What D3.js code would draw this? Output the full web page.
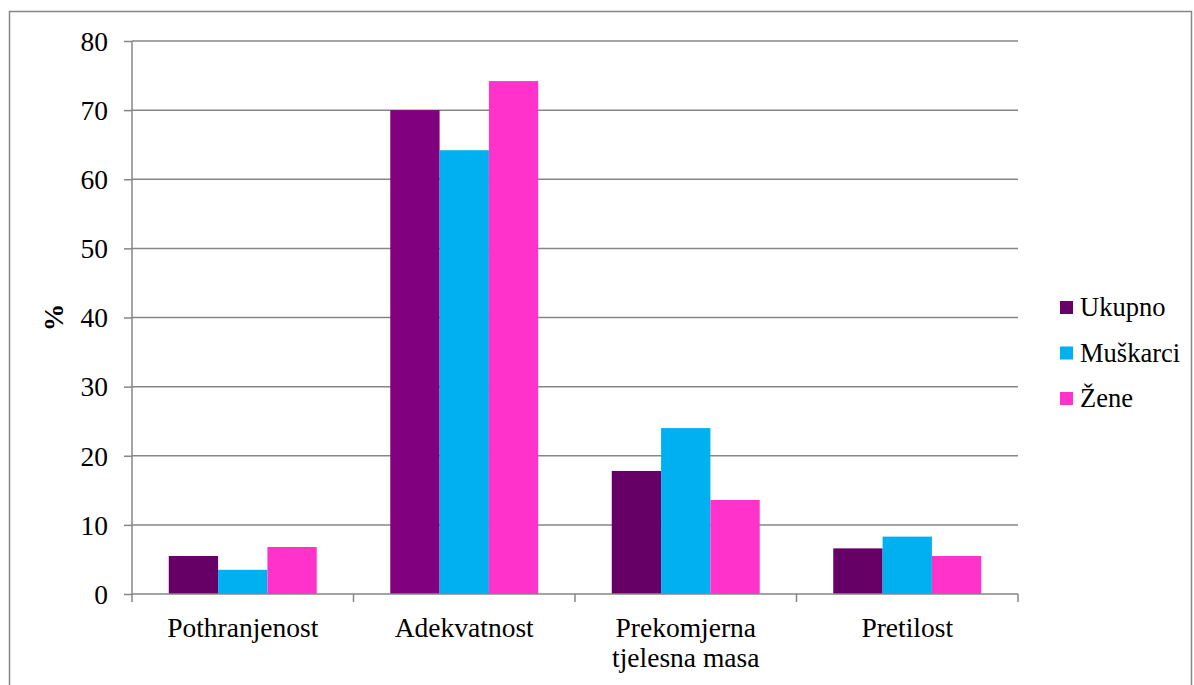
<!DOCTYPE html>
<html><head><meta charset="utf-8">
<script src="https://cdn.jsdelivr.net/npm/d3@7"></script>
<style>body{margin:0;background:#fff}svg{display:block}svg text{font-family:"Liberation Serif","Times New Roman",serif !important;fill:#000}</style>
</head><body>
<svg id="c" width="1194" height="685"></svg>
<script>
const categories = ["Pothranjenost", "Adekvatnost", "Prekomjerna tjelesna masa", "Pretilost"];
const categoryLines = [["Pothranjenost"], ["Adekvatnost"], ["Prekomjerna", "tjelesna masa"], ["Pretilost"]];
const seriesNames = ["Ukupno", "Muškarci", "Žene"];
const ukupno = [5.5, 70.0, 17.8, 6.6];
const muskarci = [3.5, 64.2, 24.0, 8.3];
const zene = [6.8, 74.2, 13.6, 5.5];
const yTicks = [0, 10, 20, 30, 40, 50, 60, 70, 80];
const seriesColors = ["#660066", "#00B0F0", "#FF33CC"];
const ukupnoPointColors = ["#660066", "#800080", "#660066", "#660066"];

const series = [ukupno, muskarci, zene];
const svg = d3.select("#c");
const L = 132, R = 1018, T = 41, B = 594;
const grey = "#868686";
const FS = 27.5;

svg.append("rect").attr("x", 9.5).attr("y", 11.5).attr("width", 1182).attr("height", 700)
  .attr("fill", "none").attr("stroke", grey).attr("stroke-width", 1.5);

const y = d3.scaleLinear().domain([0, 80]).range([B, T]);
const x0 = d3.scaleBand().domain(categories).range([L, R]).paddingInner(0.332).paddingOuter(0.166);
const x1 = d3.scaleBand().domain(seriesNames).range([0, x0.bandwidth()]);

// gridlines
svg.append("g").selectAll("line").data(yTicks.filter(d => d > 0)).join("line")
  .attr("x1", L).attr("x2", R).attr("y1", d => y(d)).attr("y2", d => y(d))
  .attr("stroke", grey).attr("stroke-width", 1.5);

// y axis
const yAxis = svg.append("g").attr("transform", `translate(${L},0)`)
  .call(d3.axisLeft(y).tickValues(yTicks).tickSize(8).tickPadding(16))
  .style("font-family", "Liberation Serif");
yAxis.select(".domain").attr("stroke", grey).attr("stroke-width", 1.5).attr("d", `M0,${T}V${B}`);
yAxis.selectAll(".tick line").attr("stroke", grey).attr("stroke-width", 1.5);
yAxis.selectAll(".tick text").attr("font-size", FS).style("font-family", "Liberation Serif").attr("fill", "#000").attr("dy", "0.34em");

// bars
const groups = svg.append("g").selectAll("g").data(categories).join("g")
  .attr("transform", d => `translate(${x0(d)},0)`);
groups.selectAll("rect").data((c, i) => seriesNames.map((s, j) => ({s, j, i, v: series[j][i]}))).join("rect")
  .attr("x", d => x1(d.s)).attr("width", x1.bandwidth())
  .attr("y", d => y(d.v)).attr("height", d => y(0) - y(d.v))
  .attr("fill", d => d.j === 0 ? ukupnoPointColors[d.i] : seriesColors[d.j]);

// x axis
const xEdges = [L].concat(categories.map(c => x0(c) - x0.step() * x0.paddingOuter() + x0.step()));
svg.append("line").attr("x1", L).attr("x2", R).attr("y1", B).attr("y2", B).attr("stroke", grey).attr("stroke-width", 1.5);
svg.append("g").selectAll("line").data(xEdges).join("line")
  .attr("x1", d => d).attr("x2", d => d).attr("y1", B).attr("y2", B + 8)
  .attr("stroke", grey).attr("stroke-width", 1.5);
categories.forEach((c, i) => {
  const t = svg.append("text").attr("x", x0(c) + x0.bandwidth() / 2).attr("y", 637)
    .attr("text-anchor", "middle").attr("font-size", FS);
  categoryLines[i].forEach((ln, k) => {
    t.append("tspan").attr("x", x0(c) + x0.bandwidth() / 2).attr("dy", k === 0 ? 0 : 30).text(ln);
  });
});

// y title
svg.append("text").attr("transform", `translate(63,${(T + B) / 2}) rotate(-90)`)
  .attr("text-anchor", "middle").attr("font-size", FS).attr("font-weight", "bold").text("%");

// legend
const lg = svg.append("g").selectAll("g").data(seriesNames).join("g")
  .attr("transform", (d, i) => `translate(1060,${301 + i * 45.5})`);
lg.append("rect").attr("width", 13).attr("height", 13).attr("fill", (d, i) => seriesColors[i]);
lg.append("text").attr("x", 20).attr("y", 15).attr("font-size", 26.5).text(d => d);
</script>
</body></html>
